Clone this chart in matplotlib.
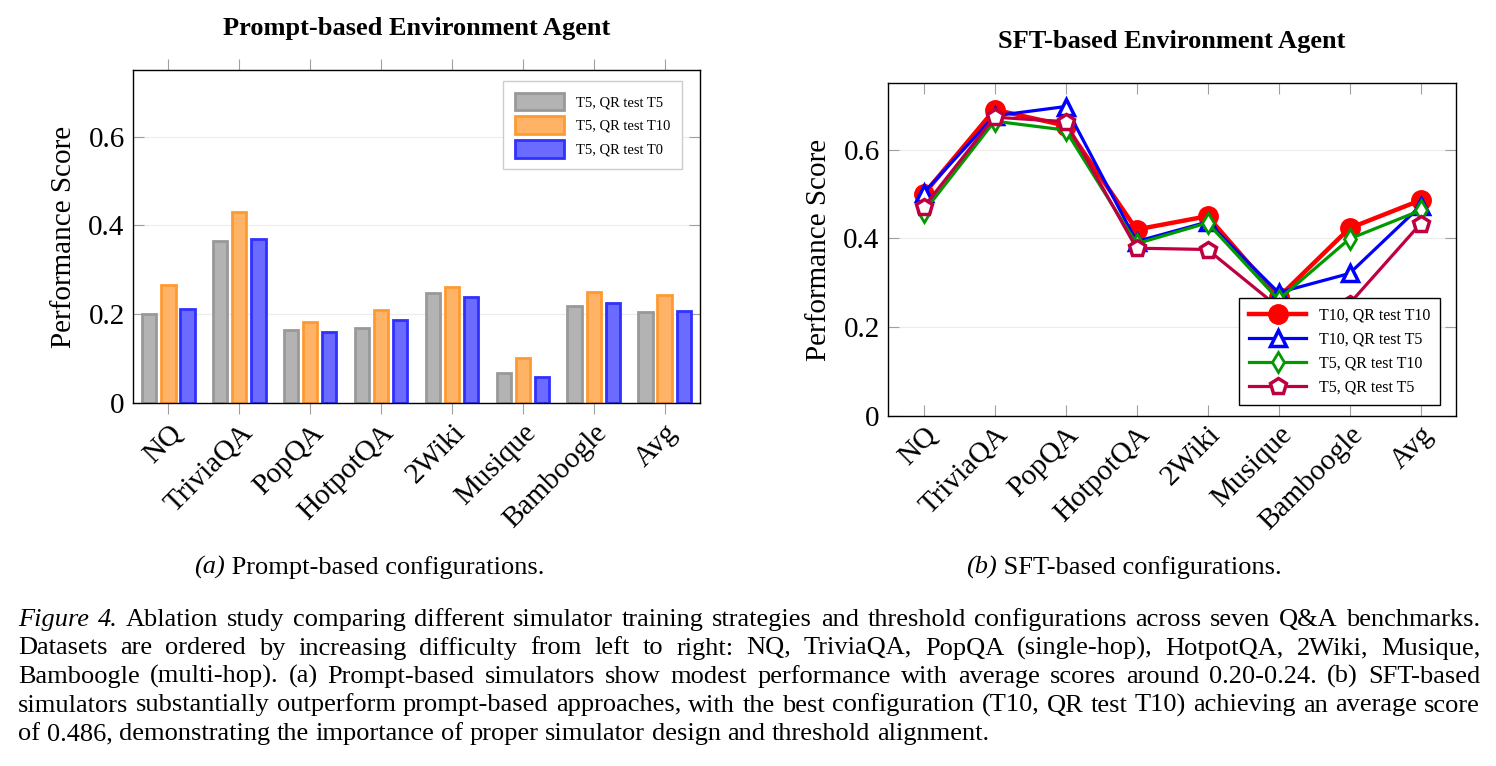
import numpy as np
import matplotlib.pyplot as plt

plt.rcParams['font.family'] = ['Liberation Serif', 'DejaVu Serif']

datasets = ['NQ', 'TriviaQA', 'PopQA', 'HotpotQA', '2Wiki', 'Musique', 'Bamboogle', 'Avg']

# (a) prompt-based
p_t5_t5 = [0.201, 0.365, 0.164, 0.170, 0.248, 0.068, 0.218, 0.204]
p_t5_t10 = [0.265, 0.431, 0.182, 0.209, 0.261, 0.101, 0.250, 0.243]
p_t5_t0 = [0.212, 0.369, 0.161, 0.188, 0.238, 0.058, 0.225, 0.207]
bar_labels = ['T5, QR test T5', 'T5, QR test T10', 'T5, QR test T0']

# (b) SFT-based
s_t10_t10 = [0.499, 0.690, 0.654, 0.420, 0.450, 0.267, 0.423, 0.486]
s_t10_t5 = [0.502, 0.676, 0.697, 0.393, 0.437, 0.278, 0.321, 0.473]
s_t5_t10 = [0.459, 0.664, 0.644, 0.388, 0.435, 0.262, 0.399, 0.463]
s_t5_t5 = [0.470, 0.673, 0.663, 0.378, 0.375, 0.245, 0.253, 0.433]
line_labels = ['T10, QR test T10', 'T10, QR test T5', 'T5, QR test T10', 'T5, QR test T5']

W, H = 1496, 766
fig = plt.figure(figsize=(W / 100, H / 100), dpi=100)

def px_axes(x0, y0, x1, y1):
    return fig.add_axes([x0 / W, 1 - y1 / H, (x1 - x0) / W, (y1 - y0) / H])

def style_axes(ax, xdir):
    ax.set_xlim(-0.5, 7.5)
    ax.set_ylim(0, 0.75)
    ax.set_yticks([0, 0.2, 0.4, 0.6])
    ax.set_yticklabels(['0', '0.2', '0.4', '0.6'])
    ax.set_xticks(range(len(datasets)))
    ax.set_xticklabels(datasets, rotation=45, ha='right', rotation_mode='anchor')
    ax.tick_params(axis='y', direction='in', left=True, right=True, length=8,
                   color='#a0a0a0', labelsize=21, pad=6)
    ax.tick_params(axis='x', direction=xdir, top=True, bottom=True, length=8,
                   color='#a0a0a0', labelsize=21, pad=4)
    ax.grid(axis='y', color='#ececec', lw=0.8)
    ax.set_axisbelow(True)
    ax.set_ylabel('Performance Score', fontsize=21, labelpad=8)
    for s in ax.spines.values():
        s.set_linewidth(1.0)

# left: bars
ax1 = px_axes(133, 70, 700, 403)
x = np.arange(len(datasets))
bw, off = 0.2, 0.27
ax1.bar(x - off, p_t5_t5, bw, color='#b3b3b3', edgecolor='#999999', lw=2, label=bar_labels[0])
ax1.bar(x, p_t5_t10, bw, color='#ffb366', edgecolor='#ff9a33', lw=2, label=bar_labels[1])
ax1.bar(x + off, p_t5_t0, bw, color='#6b6bff', edgecolor='#3030ff', lw=2, label=bar_labels[2])
style_axes(ax1, 'out')
ax1.set_title('Prompt-based Environment Agent', fontsize=19, fontweight='bold', pad=25)
leg1 = ax1.legend(loc='upper right', bbox_to_anchor=(0.968, 0.967), borderaxespad=0,
                  fontsize=10.5, handlelength=3.4, handleheight=1.5, fancybox=False,
                  edgecolor='#cccccc', framealpha=1, borderpad=0.8, labelspacing=0.4)

# right: lines
ax2 = px_axes(888, 83, 1456, 416)
ax2.plot(x, s_t10_t10, color='red', lw=3.2, marker='o', ms=14, label=line_labels[0])
ax2.plot(x, s_t10_t5, color='blue', lw=2.3, marker='^', ms=11, mfc='white', mew=2.5, label=line_labels[1])
ax2.plot(x, s_t5_t10, color='#009900', lw=2.3, marker='d', ms=10, mfc='white', mew=2, label=line_labels[2])
ax2.plot(x, s_t5_t5, color='#bf0040', lw=2.3, marker='p', ms=12, mfc='white', mew=2.5, label=line_labels[3])
style_axes(ax2, 'in')
ax2.set_title('SFT-based Environment Agent', fontsize=19, fontweight='bold', pad=25)
leg2 = ax2.legend(loc='lower right', bbox_to_anchor=(0.972, 0.033), borderaxespad=0,
                  fontsize=11.5, handlelength=3.6, fancybox=False, edgecolor='black',
                  framealpha=1, borderpad=0.6, labelspacing=0.5)
leg2.get_frame().set_linewidth(1.0)

r = fig.canvas.get_renderer()

# sub captions
def subcap(xc, tag, rest):
    t1 = fig.text(0, 1 - 574 / H, tag, fontsize=19, style='italic', va='baseline')
    t2 = fig.text(0, 1 - 574 / H, ' ' + rest, fontsize=19, va='baseline')
    w1 = t1.get_window_extent(r).width
    w2 = t2.get_window_extent(r).width
    x0 = xc - (w1 + w2) / 2
    t1.set_x(x0 / W)
    t2.set_x((x0 + w1) / W)

subcap(369, '(a)', 'Prompt-based configurations.')
subcap(1124, '(b)', 'SFT-based configurations.')

# caption, justified word by word
cap_lines = [
    'Figure 4. Ablation study comparing different simulator training strategies and threshold configurations across seven Q&A benchmarks.',
    'Datasets are ordered by increasing difficulty from left to right: NQ, TriviaQA, PopQA (single-hop), HotpotQA, 2Wiki, Musique,',
    'Bamboogle (multi-hop). (a) Prompt-based simulators show modest performance with average scores around 0.20-0.24. (b) SFT-based',
    'simulators substantially outperform prompt-based approaches, with the best configuration (T10, QR test T10) achieving an average score',
    'of 0.486, demonstrating the importance of proper simulator design and threshold alignment.',
]
cap_base = [626, 654.5, 683, 711.5, 740]
x_left, x_right = 18, 1480
for i, (line, yy) in enumerate(zip(cap_lines, cap_base)):
    words = line.split(' ')
    texts = []
    for j, w in enumerate(words):
        st = 'italic' if (i == 0 and j < 2) else 'normal'
        texts.append(fig.text(0, 1 - yy / H, w, fontsize=19, style=st, va='baseline'))
    widths = [t.get_window_extent(r).width for t in texts]
    if i < len(cap_lines) - 1:
        gap = (x_right - x_left - sum(widths)) / (len(words) - 1)
    else:
        gap = 19 * 100 / 72 * 0.25
    xx = x_left
    for t, w in zip(texts, widths):
        t.set_x(xx / W)
        xx += w + gap

fig.savefig('out.png', dpi=100)
